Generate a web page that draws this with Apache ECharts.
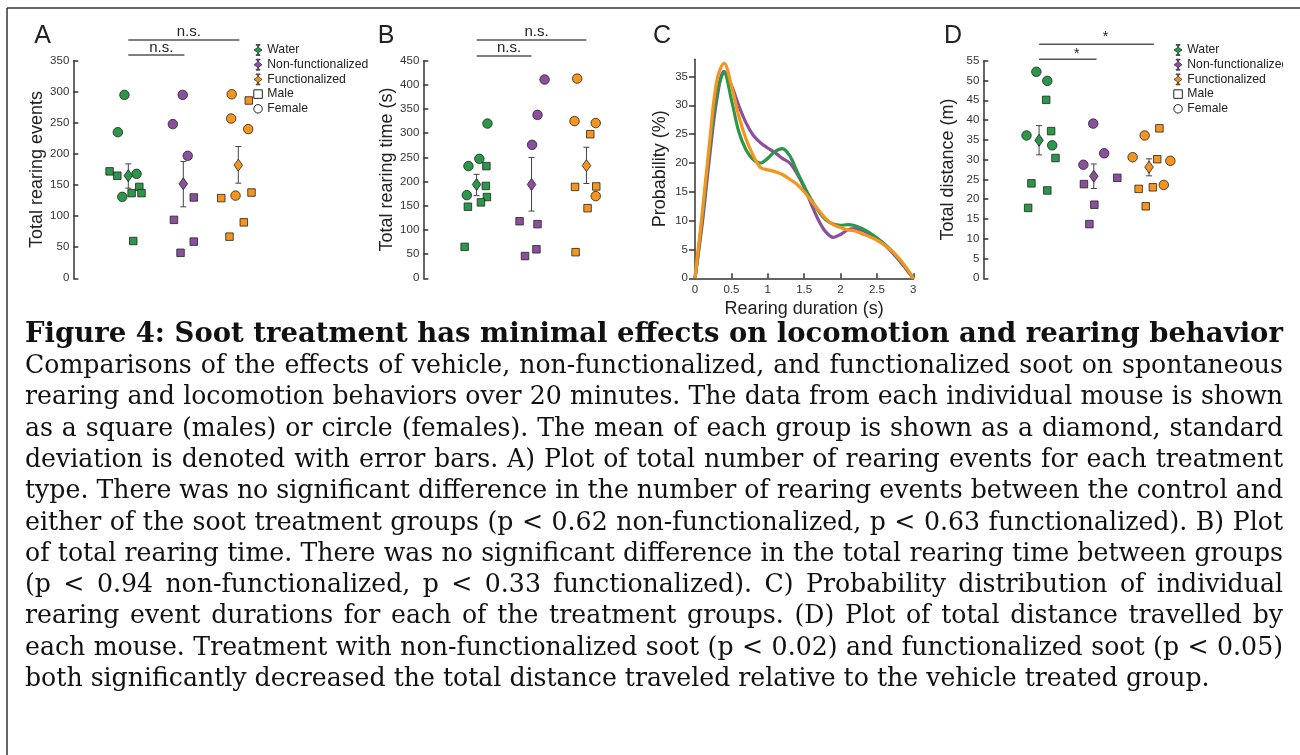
<!DOCTYPE html>
<html><head><meta charset="utf-8">
<script src="https://cdn.jsdelivr.net/npm/echarts@6/dist/echarts.min.js"></script>
<style>html,body{margin:0;padding:0;background:#fff}#c{width:1300px;height:755px}</style>
</head><body><div id="c"></div>
<script>
// ---------------- DATA ----------------
// Panel A: total rearing events  ([jitter x, value])
const A_water_female = [[0.93,295],[0.81,235],[1.15,168],[0.89,131]];
const A_water_male = [[0.66,172],[0.80,165],[1.20,147],[1.06,137],[1.24,137],[1.09,60]];
const A_nonfunc_female = [[1.99,295],[1.81,248],[2.08,197]];
const A_nonfunc_male = [[1.83,94],[2.19,130],[1.95,41],[2.19,59]];
const A_func_female = [[2.88,296],[2.87,257],[3.18,240],[2.95,133]];
const A_func_male = [[3.19,286],[2.69,129],[3.24,138],[3.10,90],[2.84,67]];
const A_meanX = [1.00, 2.00, 3.00];
const A_mean = [165, 152, 182];
const A_errLow = [145, 115, 153];
const A_errHigh = [184, 188, 212];

// Panel B: total rearing time (s)
const B_water_female = [[0.83,232],[1.03,247],[1.18,320],[0.80,172]];
const B_water_male = [[1.16,232],[1.15,191],[1.17,168],[1.06,157],[0.82,148],[0.76,65]];
const B_nonfunc_female = [[2.23,411],[2.10,338],[2.00,276]];
const B_nonfunc_male = [[1.77,118],[2.10,112],[1.87,46],[2.08,60]];
const B_func_female = [[2.83,413],[2.78,325],[3.17,321],[3.17,170]];
const B_func_male = [[3.07,298],[2.79,189],[3.18,190],[3.02,145],[2.80,54]];
const B_meanX = [0.98, 1.99, 3.00];
const B_mean = [194, 194, 233];
const B_errLow = [171, 139, 196];
const B_errHigh = [215, 250, 271];

// Panel C: probability distribution of rearing durations
const C_x = [0,0.1,0.2,0.3,0.4,0.5,0.6,0.7,0.8,0.9,1.0,1.1,1.2,1.3,1.4,1.5,1.6,1.7,1.8,1.9,2.0,2.1,2.2,2.3,2.4,2.5,2.6,2.7,2.8,2.9,3.0];
const C_water   = [0,10.5,22.5,32.0,35.6,31.0,25.5,22.3,20.6,20.0,20.8,22.0,22.5,21.3,18.6,16.0,13.6,11.6,10.1,9.4,9.2,9.3,9.1,8.6,7.9,7.0,6.0,4.8,3.4,1.8,0];
const C_nonfunc = [0,9.5,21.0,31.0,35.9,33.5,30.0,27.0,24.8,23.5,22.6,21.8,20.8,20.0,18.2,15.8,12.8,10.0,8.0,7.1,7.6,8.4,8.6,8.3,7.7,6.9,5.9,4.6,3.2,1.6,0];
const C_func    = [0,11.4,23.6,34.3,37.3,33.4,28.2,24.2,21.3,19.2,18.8,18.5,18.0,17.2,16.3,15.0,13.4,11.8,10.3,9.3,8.8,8.4,8.2,7.7,7.2,6.6,5.8,4.8,3.5,1.9,0];
const C_yTicks = [0,5,10,15,20,25,30,35];

// Panel D: total distance (m)
const D_water_female = [[0.97,52.2],[1.17,49.9],[0.79,36.1],[1.26,33.6]];
const D_water_male = [[1.15,45.1],[1.24,37.2],[1.32,30.4],[0.88,24.0],[1.17,22.2],[0.82,17.8]];
const D_nonfunc_female = [[2.01,39.1],[2.21,31.6],[1.83,28.7]];
const D_nonfunc_male = [[1.84,23.8],[2.45,25.4],[2.03,18.6],[1.94,13.7]];
const D_func_female = [[2.95,36.1],[2.73,30.6],[3.42,29.7],[3.30,23.6]];
const D_func_male = [[3.22,37.9],[3.18,30.1],[2.84,22.6],[3.10,23.0],[2.97,18.2]];
const D_meanX = [1.02, 2.02, 3.03];
const D_mean = [34.9, 25.8, 28.1];
const D_errLow = [31.2, 22.7, 25.9];
const D_errHigh = [38.6, 28.9, 30.2];

// Significance annotations [from x, to x, label]
const A_sig = [[1.00, 3.02, 'n.s.'], [1.00, 2.02, 'n.s.']];
const B_sig = [[0.98, 3.00, 'n.s.'], [0.98, 1.99, 'n.s.']];
const D_sig = [[1.02, 3.12, '*'], [1.02, 2.07, '*']];

const groupNames = ['Water', 'Non-functionalized', 'Functionalized'];
const legendNames = ['Water', 'Non-functionalized', 'Functionalized', 'Male', 'Female'];

const captionTitle = 'Figure 4: Soot treatment has minimal effects on locomotion and rearing behavior';
const captionLines = [
 'Comparisons of the effects of vehicle, non-functionalized, and functionalized soot on spontaneous',
 'rearing and locomotion behaviors over 20 minutes. The data from each individual mouse is shown',
 'as a square (males) or circle (females). The mean of each group is shown as a diamond, standard',
 'deviation is denoted with error bars. A) Plot of total number of rearing events for each treatment',
 'type. There was no significant difference in the number of rearing events between the control and',
 'either of the soot treatment groups (p < 0.62 non-functionalized, p < 0.63 functionalized). B) Plot',
 'of total rearing time. There was no significant difference in the total rearing time between groups',
 '(p < 0.94 non-functionalized, p < 0.33 functionalized). C) Probability distribution of individual',
 'rearing event durations for each of the treatment groups. (D) Plot of total distance travelled by',
 'each mouse. Treatment with non-functionalized soot (p < 0.02) and functionalized soot (p < 0.05)',
 'both significantly decreased the total distance traveled relative to the vehicle treated group.'
];

// ---------------- STYLE / LAYOUT ----------------
const SANS = '"Liberation Sans", Arial, Helvetica, sans-serif';
const SERIF = '"DejaVu Serif", Georgia, serif';
const COLORS = ['#2a9848', '#8c4f9e', '#f7941d'];
const AX = '#333';
const OUTLINE = '#222';

const chart = echarts.init(document.getElementById('c'), null, {renderer: 'canvas', width: 1300, height: 755});

const grids = [
  {left: 73.3, top: 60.7, width: 198, height: 217.6},
  {left: 423.3, top: 60.7, width: 195.8, height: 217.6},
  {left: 695, top: 59.2, width: 218.3, height: 219.1},
  {left: 983.3, top: 60.7, width: 196.9, height: 217.6}
];

function scatterYAxis(g, max, interval, name) {
  return {
    type: 'value', gridIndex: g, min: 0, max: max, interval: interval,
    name: name, nameLocation: 'middle', nameGap: 26,
    nameTextStyle: {fontSize: 18, color: '#222', fontFamily: SANS},
    axisLine: {show: true, lineStyle: {color: AX, width: 1.5}},
    axisTick: {show: true, inside: true, length: 5, lineStyle: {color: AX, width: 1.5}},
    axisLabel: {fontSize: 11.5, color: '#333', margin: 4, fontFamily: SANS},
    splitLine: {show: false}
  };
}

function errRender(params, api) {
  const x = api.value(0), lo = api.value(1), hi = api.value(2);
  const p1 = api.coord([x, hi]), p2 = api.coord([x, lo]);
  const cap = 3, st = {stroke: '#444', lineWidth: 1};
  return {type: 'group', children: [
    {type: 'line', shape: {x1: p1[0], y1: p1[1], x2: p2[0], y2: p2[1]}, style: st},
    {type: 'line', shape: {x1: p1[0] - cap, y1: p1[1], x2: p1[0] + cap, y2: p1[1]}, style: st},
    {type: 'line', shape: {x1: p2[0] - cap, y1: p2[1], x2: p2[0] + cap, y2: p2[1]}, style: st}
  ]};
}

function panelSeries(g, females, males, meanX, mean, lo, hi) {
  const out = [];
  for (let i = 0; i < 3; i++) {
    out.push({type: 'scatter', name: 'Female', xAxisIndex: g, yAxisIndex: g, data: females[i],
      symbol: 'circle', symbolSize: 9.5, silent: true, z: 3,
      itemStyle: {color: COLORS[i], borderColor: OUTLINE, borderWidth: 0.8, opacity: 1}});
    out.push({type: 'scatter', name: 'Male', xAxisIndex: g, yAxisIndex: g, data: males[i],
      symbol: 'rect', symbolSize: 7.5, silent: true, z: 3,
      itemStyle: {color: COLORS[i], borderColor: OUTLINE, borderWidth: 0.8, opacity: 1}});
    out.push({type: 'custom', name: groupNames[i] + ' SD', xAxisIndex: g, yAxisIndex: g,
      data: [[meanX[i], lo[i], hi[i]]], renderItem: errRender, silent: true, z: 4});
    out.push({type: 'scatter', name: groupNames[i], xAxisIndex: g, yAxisIndex: g,
      data: [[meanX[i], mean[i]]], symbol: 'diamond', symbolSize: [8.5, 12], silent: true, z: 5,
      itemStyle: {color: COLORS[i], borderColor: OUTLINE, borderWidth: 0.8, opacity: 1}});
  }
  return out;
}

const ERR_ICON = 'path://M2.5,0H6.5V0.8H5V3L8.5,5.5L5,8V10.2H6.5V11H2.5V10.2H4V8L0.5,5.5L4,3V0.8H2.5Z';
const legendData = [
  {name: legendNames[0], icon: ERR_ICON, itemStyle: {color: COLORS[0], borderColor: OUTLINE, borderWidth: 0.7}},
  {name: legendNames[1], icon: ERR_ICON, itemStyle: {color: COLORS[1], borderColor: OUTLINE, borderWidth: 0.7}},
  {name: legendNames[2], icon: ERR_ICON, itemStyle: {color: COLORS[2], borderColor: OUTLINE, borderWidth: 0.7}},
  {name: legendNames[3], icon: 'path://M0,0H10V10H0Z', itemStyle: {color: '#fff', borderColor: OUTLINE, borderWidth: 1}},
  {name: legendNames[4], icon: 'circle', itemStyle: {color: '#fff', borderColor: OUTLINE, borderWidth: 1}}
];
function makeLegend(left) {
  return {left: left, top: 43.5, orient: 'vertical', itemWidth: 8.5, itemHeight: 11, itemGap: 1.7,
    padding: 0, selectedMode: false, data: legendData,
    textStyle: {fontSize: 12.2, color: '#222', fontFamily: SANS, lineHeight: 13}};
}

const series = [].concat(
  panelSeries(0, [A_water_female, A_nonfunc_female, A_func_female], [A_water_male, A_nonfunc_male, A_func_male], A_meanX, A_mean, A_errLow, A_errHigh),
  panelSeries(1, [B_water_female, B_nonfunc_female, B_func_female], [B_water_male, B_nonfunc_male, B_func_male], B_meanX, B_mean, B_errLow, B_errHigh),
  panelSeries(3, [D_water_female, D_nonfunc_female, D_func_female], [D_water_male, D_nonfunc_male, D_func_male], D_meanX, D_mean, D_errLow, D_errHigh)
);
const curveOrder = [[C_nonfunc, 1, 'Non-functionalized curve'], [C_water, 0, 'Water curve'], [C_func, 2, 'Functionalized curve']];
curveOrder.forEach(function (c, k) {
  series.push({type: 'line', name: c[2], xAxisIndex: 2, yAxisIndex: 2, smooth: 0.35, showSymbol: false,
    silent: true, z: 3 + k, data: C_x.map(function (x, i) { return [x, c[0][i]]; }),
    lineStyle: {color: COLORS[c[1]], width: 3.2}});
});

const option = {
  animation: false,
  backgroundColor: '#fff',
  grid: grids,
  legend: [makeLegend(253.3), makeLegend(1173.3)],
  xAxis: [
    {type: 'value', gridIndex: 0, min: 0, max: 3.6, show: false},
    {type: 'value', gridIndex: 1, min: 0, max: 3.6, show: false},
    {type: 'value', gridIndex: 2, min: 0, max: 3, interval: 0.5,
      name: 'Rearing duration (s)', nameLocation: 'middle', nameGap: 22,
      nameTextStyle: {fontSize: 18, color: '#222', fontFamily: SANS},
      axisLine: {show: true, lineStyle: {color: AX, width: 1.5}},
      axisTick: {show: true, inside: true, length: 5, lineStyle: {color: AX, width: 1.5}},
      axisLabel: {fontSize: 11.5, color: '#333', margin: 6, fontFamily: SANS},
      splitLine: {show: false}},
    {type: 'value', gridIndex: 3, min: 0, max: 3.6, show: false}
  ],
  yAxis: [
    scatterYAxis(0, 350, 50, 'Total rearing events'),
    scatterYAxis(1, 450, 50, 'Total rearing time (s)'),
    {type: 'value', gridIndex: 2, min: 0, max: 38,
      name: 'Probability (%)', nameLocation: 'middle', nameGap: 26,
      nameTextStyle: {fontSize: 18, color: '#222', fontFamily: SANS},
      axisLine: {show: true, lineStyle: {color: AX, width: 1.5}},
      axisTick: {show: true, inside: false, length: 6, customValues: C_yTicks, lineStyle: {color: AX, width: 1.5}},
      axisLabel: {fontSize: 11.5, color: '#333', margin: 7, fontFamily: SANS, customValues: C_yTicks},
      splitLine: {show: false}},
    scatterYAxis(3, 55, 5, 'Total distance (m)')
  ],
  series: series
};
chart.setOption(option);

// ---------------- ANNOTATIONS (graphic) ----------------
const graphics = [];
// frame
graphics.push({type: 'line', shape: {x1: 7, y1: 8, x2: 1300, y2: 8}, style: {stroke: '#333', lineWidth: 1.5}, z: 10});
graphics.push({type: 'line', shape: {x1: 7, y1: 8, x2: 7, y2: 755}, style: {stroke: '#333', lineWidth: 1.5}, z: 10});
// panel letters
[['A', 42.5], ['B', 386], ['C', 662], ['D', 953]].forEach(function (p) {
  graphics.push({type: 'text', x: p[1], y: 36, z: 10,
    style: {text: p[0], font: '25px ' + SANS, fill: '#222', align: 'center', textAlign: 'center', verticalAlign: 'middle', textVerticalAlign: 'middle'}});
});
// significance bars
function sigBars(g, sig, lineYs, textYs, fontSize, dx) {
  sig.forEach(function (s, k) {
    const a = chart.convertToPixel({gridIndex: g}, [s[0], 0]);
    const b = chart.convertToPixel({gridIndex: g}, [s[1], 0]);
    graphics.push({type: 'line', z: 10, shape: {x1: a[0], y1: lineYs[k], x2: b[0], y2: lineYs[k]},
      style: {stroke: '#555', lineWidth: 1.5}});
    graphics.push({type: 'text', z: 10, x: (a[0] + b[0]) / 2 + dx, y: textYs[k],
      style: {text: s[2], font: fontSize + 'px ' + SANS, fill: '#222', align: 'center', textAlign: 'center', verticalAlign: 'middle', textVerticalAlign: 'middle'}});
  });
}
sigBars(0, A_sig, [40, 55], [32, 47.6], 15, 5);
sigBars(1, B_sig, [40, 56], [32, 48], 15, 5);
sigBars(3, D_sig, [44.3, 59.3], [37.5, 53.8], 14, 9);
// clip right edge of D legend like the reference crop
graphics.push({type: 'rect', z: 100, shape: {x: 1283, y: 40, width: 17, height: 80}, style: {fill: '#fff'}});

// caption (justified)
const mctx = document.createElement('canvas').getContext('2d');
function measure(t, font) { mctx.font = font; return mctx.measureText(t).width; }
const X0 = 25, X1 = 1283, W = X1 - X0;
const titleSize = 100 * W / measure(captionTitle, 'bold 100px ' + SERIF);
graphics.push({type: 'text', x: X0, y: 334.5, z: 10,
  style: {text: captionTitle, font: 'bold ' + titleSize.toFixed(2) + 'px ' + SERIF, fill: '#111', align: 'left', textAlign: 'left', verticalAlign: 'middle', textVerticalAlign: 'middle'}});
let maxNat = 0;
captionLines.slice(0, -1).forEach(function (l) { maxNat = Math.max(maxNat, measure(l, '100px ' + SERIF)); });
const bodySize = 100 * W / maxNat;
const bodyFont = bodySize.toFixed(2) + 'px ' + SERIF;
captionLines.forEach(function (line, i) {
  const y = 366.5 + 31.3 * i;
  const words = line.split(' ');
  const widths = words.map(function (w) { return measure(w, bodyFont); });
  const sum = widths.reduce(function (a, b) { return a + b; }, 0);
  const last = i === captionLines.length - 1;
  const gap = last ? measure(' ', bodyFont) : (W - sum) / (words.length - 1);
  let x = X0;
  words.forEach(function (w, k) {
    graphics.push({type: 'text', x: x, y: y, z: 10,
      style: {text: w, font: bodyFont, fill: '#111', align: 'left', textAlign: 'left', verticalAlign: 'middle', textVerticalAlign: 'middle'}});
    x += widths[k] + gap;
  });
});
chart.setOption({graphic: graphics});
</script></body></html>
